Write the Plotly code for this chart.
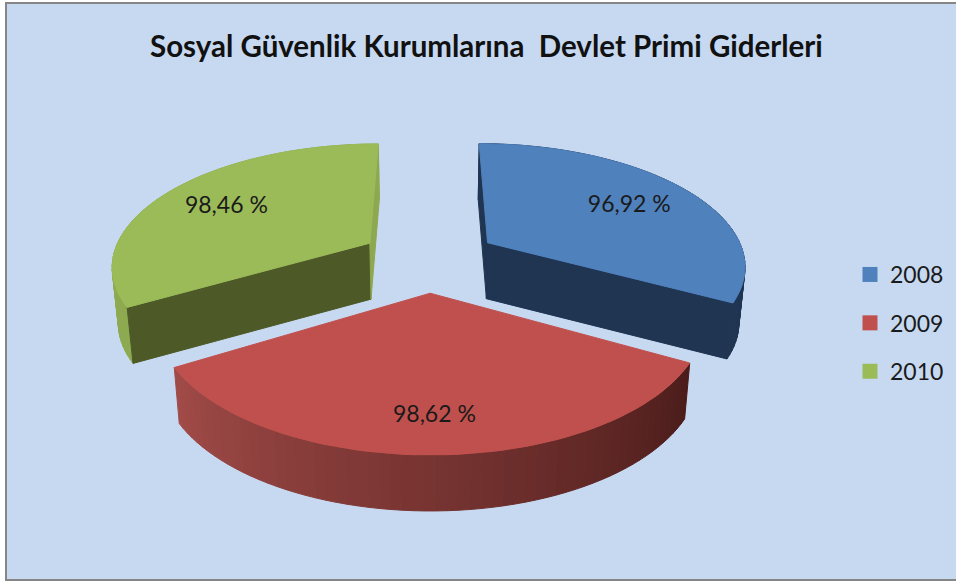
import math
import plotly.graph_objects as go

TITLE = "Sosyal Güvenlik Kurumlarına  Devlet Primi Giderleri"
YEARS = ["2008", "2009", "2010"]
VALUES = [96.92, 98.62, 98.46]
TOP_COLORS = ["#4F81BD", "#C0504D", "#9BBB59"]
RIM_LEFT = ["#1F3552", "#4A1C1A", "#8EAA50"]
RIM_RIGHT = ["#1F3552", "#A24B48", "#8EAA50"]
# colours of the cut faces at the start and end of each slice; None = faces away from the viewer
FACE_START = ["#1F3552", None, "#4D5A28"]
FACE_END = ["#1F3552", None, "#8EA850"]
LABEL_RADIUS = [0.71, 0.78, 0.71]

# projection of the tilted pie onto the chart's axes
CX, V0, A, B, Q, EXPLODE, DEPTH, SHRINK = 429.0, 259.0, 258.0, 121.0, 0.17, 0.27, 56.0, 0.02


def project(X, Y, z=0.0):
    w = 1 + Q * Y
    s = 1 / (1 + SHRINK * z / DEPTH)
    return CX + A * X / w * s, V0 - B * Y / w + z


def mix(c1, c2, t):
    a = [int(c1[i:i + 2], 16) for i in (1, 3, 5)]
    b = [int(c2[i:i + 2], 16) for i in (1, 3, 5)]
    return "#%02x%02x%02x" % tuple(round(p + (q - p) * t) for p, q in zip(a, b))


def poly(fig, pts, color):
    fig.add_trace(go.Scatter(
        x=[p[0] for p in pts] + [pts[0][0]], y=[p[1] for p in pts] + [pts[0][1]],
        mode="lines", fill="toself", fillcolor=color,
        line=dict(color=color, width=1), hoverinfo="skip", showlegend=False))


fig = go.Figure()
total = sum(VALUES)
spans, acc = [], 0.0
for v in VALUES:
    spans.append((acc / total * 2 * math.pi, (acc + v) / total * 2 * math.pi))
    acc += v

labels = []
for i in (0, 2, 1):
    a0, a1 = spans[i]
    mid = (a0 + a1) / 2
    ox, oy = EXPLODE * math.sin(mid), EXPLODE * math.cos(mid)
    n = 60
    angs = [a0 + (a1 - a0) * k / n for k in range(n + 1)]
    arc = [(ox + math.sin(t), oy + math.cos(t)) for t in angs]
    # outer rim, split so that it can shade from one end to the other
    for k in range(n):
        p, q = arc[k], arc[k + 1]
        poly(fig, [project(*p), project(*q), project(*q, DEPTH), project(*p, DEPTH)],
             mix(RIM_LEFT[i], RIM_RIGHT[i], (k + 0.5) / n))
    # the two cut faces
    if FACE_START[i]:
        poly(fig, [project(ox, oy), project(*arc[0]), project(*arc[0], DEPTH), project(ox, oy, DEPTH)], FACE_START[i])
    if FACE_END[i]:
        poly(fig, [project(ox, oy), project(*arc[-1]), project(*arc[-1], DEPTH), project(ox, oy, DEPTH)], FACE_END[i])
    # top surface
    poly(fig, [project(ox, oy)] + [project(*p) for p in arc], TOP_COLORS[i])
    r = LABEL_RADIUS[i]
    labels.append((i, project(ox + r * math.sin(mid), oy + r * math.cos(mid), 3)))

fig.add_trace(go.Scatter(
    x=[p[1][0] for p in labels], y=[p[1][1] for p in labels],
    text=[("%.2f" % VALUES[p[0]]).replace(".", ",") + " %" for p in labels],
    mode="text", textposition="middle center",
    textfont=dict(family="Lato", size=23, color="#1a1a1a"),
    hoverinfo="skip", showlegend=False))

for year, col in zip(YEARS, TOP_COLORS):
    fig.add_trace(go.Scatter(
        x=[None], y=[None], mode="markers", name=year, legendgroup=year,
        marker=dict(symbol="square", size=15, color=col)))

fig.update_layout(
    width=956, height=584, margin=dict(l=0, r=0, t=0, b=0),
    paper_bgcolor="white", plot_bgcolor="white",
    xaxis=dict(range=[0, 956], visible=False, fixedrange=True),
    yaxis=dict(range=[584, 0], visible=False, fixedrange=True),
    shapes=[dict(type="rect", xref="x", yref="y", x0=6, x1=962, y0=3, y1=580, layer="below",
                 fillcolor="#C6D9F1", line=dict(color="#868686", width=2))],
    annotations=[dict(text=TITLE, xref="x", yref="y", x=486, y=45, showarrow=False,
                      font=dict(family="Lato", size=29.5, color="#111111", weight="bold"))],
    legend=dict(x=850 / 956, y=1 - 253 / 584, xanchor="left", yanchor="top",
                bgcolor="rgba(0,0,0,0)", tracegroupgap=15.5, itemsizing="trace",
                font=dict(family="Lato", size=23, color="#1a1a1a")),
)
fig.write_html("out.html", config=dict(displayModeBar=False),
               post_script="document.body.style.margin='0';document.documentElement.style.overflow='hidden';")
